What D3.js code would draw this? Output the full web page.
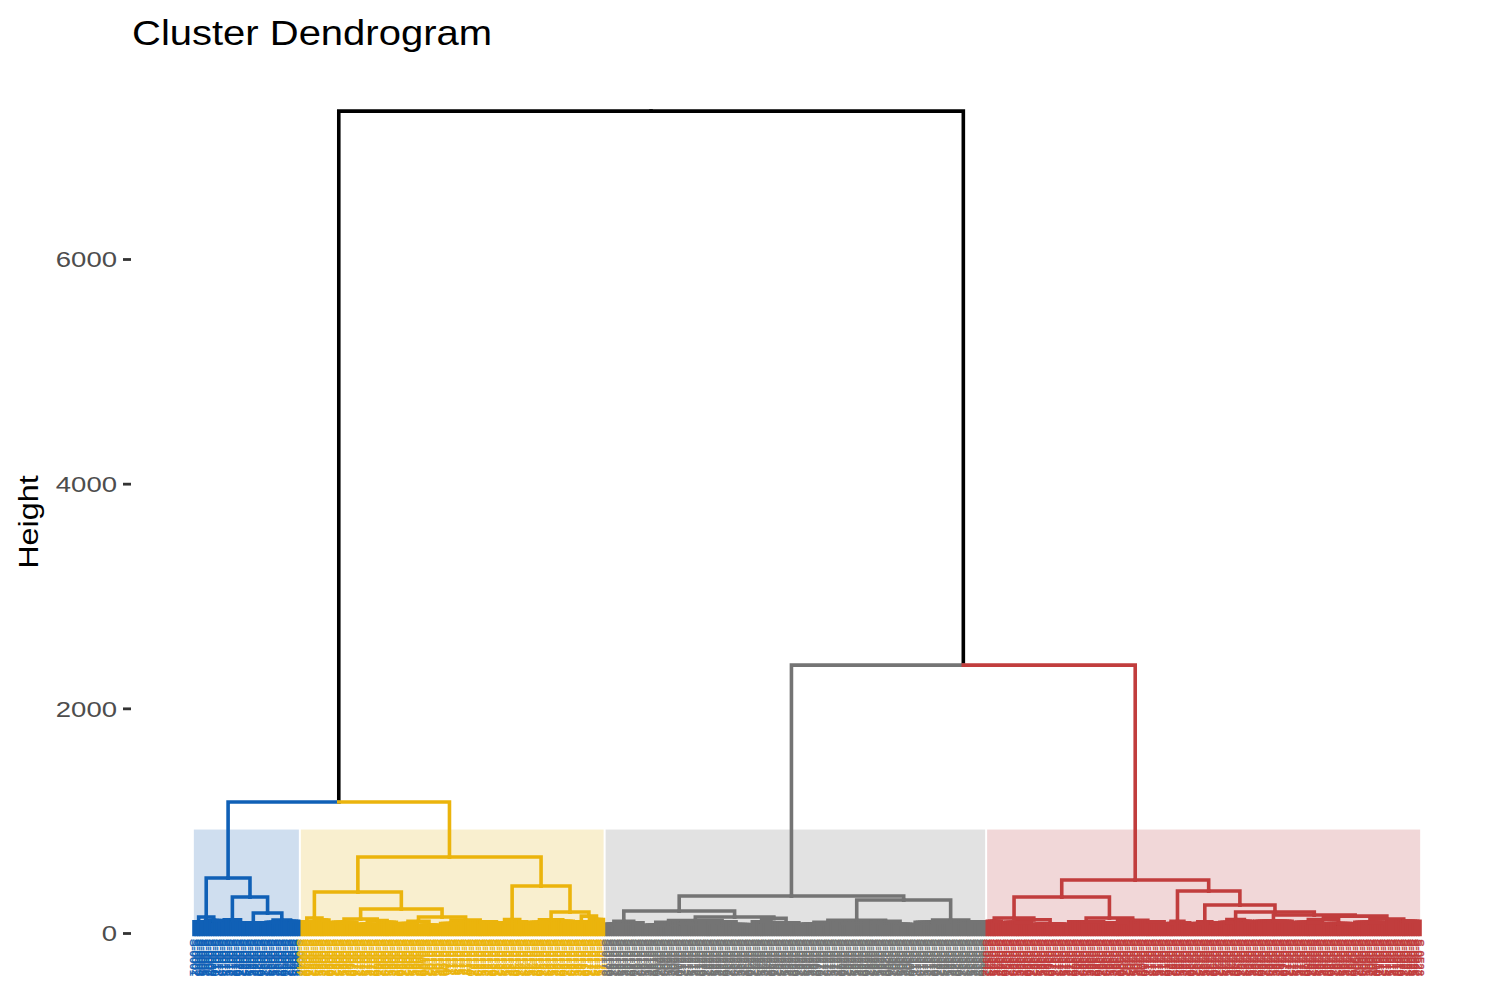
<!DOCTYPE html>
<html><head><meta charset="utf-8">
<script src="https://cdn.jsdelivr.net/npm/d3@7"></script>
<style>body{margin:0;background:#fff}</style>
</head><body>
<svg id="chart" width="1500" height="1000"></svg>
<script>
// ---- data: branches as [id, parent, merge height, leaves in a terminal bundle] ----
const topBranches = [
  ["root", null, 7316, 0],
  ["L", "root", 1166, 0],
  ["Rt", "root", 2385, 0],
  ["B", "L", 490, 0],
  ["Y", "L", 676, 0],
  ["G", "Rt", 329, 0],
  ["R", "Rt", 472, 0]
];
const blueBranches = [
  ["B1","B",142,0], ["B1a","B1",100,5], ["B1b","B1",110,8],
  ["B2","B",320,0], ["B2a","B2",118,8], ["B2b","B2",178,0],
  ["B2b1","B2b",90,10], ["B2b2","B2b",115,0], ["B2b2a","B2b2",95,7], ["B2b2b","B2b2",105,8]
];
const yellowBranches = [
  ["Y1","Y",365,0],
  ["Y1a","Y1",133,0], ["Y1a1","Y1a",100,6], ["Y1a2","Y1a",115,7],
  ["Y1b","Y1",214,0],
  ["Y1b1","Y1b",125,0], ["Y1b1a","Y1b1",95,12],
  ["Y1b1b","Y1b1",110,0], ["Y1b1b1","Y1b1b",80,8], ["Y1b1b2","Y1b1b",95,9],
  ["Y1b2","Y1b",142,0],
  ["Y1b2a","Y1b2",105,0], ["Y1b2a1","Y1b2a",85,9], ["Y1b2a2","Y1b2a",70,9],
  ["Y1b2b","Y1b2",115,0], ["Y1b2b1","Y1b2b",85,10], ["Y1b2b2","Y1b2b",100,15],
  ["Y2","Y",418,0],
  ["Y2a","Y2",120,0], ["Y2a1","Y2a",90,6], ["Y2a2","Y2a",100,7],
  ["Y2b","Y2",187,0],
  ["Y2b1","Y2b",118,0], ["Y2b1a","Y2b1",95,10], ["Y2b1b","Y2b1",105,10],
  ["Y2b2","Y2b",150,0], ["Y2b2a","Y2b2",100,6], ["Y2b2b","Y2b2",120,7]
];
const greyBranches = [
  ["G1","G",196,0],
  ["G1a","G1",105,0], ["G1a1","G1a",80,8], ["G1a2","G1a",90,9],
  ["G1b","G1",142,0],
  ["G1b1","G1b",110,0],
  ["G1b1a","G1b1",95,0], ["G1b1a1","G1b1a",70,10], ["G1b1a2","G1b1a",85,12],
  ["G1b1b","G1b1",100,0], ["G1b1b1","G1b1b",90,11], ["G1b1b2","G1b1b",75,13],
  ["G1b2","G1b",130,0], ["G1b2a","G1b2",100,9], ["G1b2b","G1b2",90,12],
  ["G2","G",294,0],
  ["G2a","G2",112,0],
  ["G2a1","G2a",95,0], ["G2a1a","G2a1",80,12], ["G2a1b","G2a1",88,12],
  ["G2a2","G2a",105,0], ["G2a2a","G2a2",95,13], ["G2a2b","G2a2",78,12],
  ["G2b","G2",116,0], ["G2b1","G2b",95,16], ["G2b2","G2b",100,15]
];
const redBranches = [
  ["R1","R",320,0],
  ["R1a","R1",134,0], ["R1a1","R1a",105,7],
  ["R1a2","R1a",118,0], ["R1a2a","R1a2",95,13], ["R1a2b","R1a2",80,15],
  ["R1b","R1",134,0], ["R1b1","R1b",100,16],
  ["R1b2","R1b",112,0], ["R1b2a","R1b2",90,11], ["R1b2b","R1b2",100,15],
  ["R2","R",374,0],
  ["R2a","R2",105,0], ["R2a1","R2a",85,5], ["R2a2","R2a",90,6],
  ["R2b","R2",249,0],
  ["R2b1","R2b",100,0], ["R2b1a","R2b1",85,6], ["R2b1b","R2b1",90,6],
  ["R2b2","R2b",187,0],
  ["R2b2a","R2b2",120,0], ["R2b2a1","R2b2a",95,7], ["R2b2a2","R2b2a",105,8],
  ["R2b2b","R2b2",160,0], ["R2b2b1","R2b2b",105,17],
  ["R2b2b2","R2b2b",150,0],
  ["R2b2b2a","R2b2b2",120,0], ["R2b2b2a1","R2b2b2a",95,13], ["R2b2b2a2","R2b2b2a",85,13],
  ["R2b2b2b","R2b2b2",125,0], ["R2b2b2b1","R2b2b2b",95,14], ["R2b2b2b2","R2b2b2b",105,15]
];
const clusterRoots = ["B","Y","G","R"];
const clusterColors = ["#1060B6","#EBB40C","#747474","#C13D3D"];
const clusterFills  = ["#CFDEEF","#F9EFCF","#E2E2E2","#F1D7D8"];
const yTicks = [0, 2000, 4000, 6000];
const titleText = "Cluster Dendrogram";
const yTitleText = "Height";
const kClusters = 4;

// ---- build hierarchy ----
const allBranches = [...topBranches, ...blueBranches, ...yellowBranches, ...greyBranches, ...redBranches];
const root = d3.stratify().id(d => d[0]).parentId(d => d[1])(allBranches);

const leafSlots = [];
root.eachBefore(nd => {
  if (!nd.children) {
    nd.first = leafSlots.length;
    for (let j = 0; j < nd.data[3]; j++) leafSlots.push(nd);
    nd.last = leafSlots.length - 1;
  }
});
const N = leafSlots.length;
const leafLabels = d3.range(N).map(i => "S-" + d3.format("04")(i + 1));

root.each(nd => {
  const a = nd.ancestors().find(a => clusterRoots.includes(a.id));
  nd.cluster = a ? clusterRoots.indexOf(a.id) : -1;
});
const colorOf = nd => nd.cluster < 0 ? "#000000" : clusterColors[nd.cluster];

// ---- scales ----
const x = d3.scalePoint().domain(d3.range(N)).range([194, 1420]);
const y = d3.scaleLinear().domain([0, 6000]).range([933, 259]);
const step = x.step();

root.eachAfter(nd => {
  if (nd.children) {
    nd.px = d3.mean(nd.children, c => c.px);
    nd.first = d3.min(nd.children, c => c.first);
    nd.last = d3.max(nd.children, c => c.last);
  } else {
    nd.px = (x(nd.first) + x(nd.last)) / 2;
  }
});

const svg = d3.select("#chart");
const FONT = "'Liberation Sans', Arial, Helvetica, sans-serif";

// ---- cluster rectangles ----
const internalHeights = root.descendants().filter(n => n.children).map(n => n.data[2]).sort((a,b) => b - a);
const rectTop = (internalHeights[kClusters - 2] + internalHeights[kClusters - 1]) / 2;
const clusterNodes = clusterRoots.map(id => root.find(n => n.id === id));
svg.append("g").selectAll("rect").data(clusterNodes).join("rect")
  .attr("x", d => x(d.first) - step / 2 + 1)
  .attr("width", d => x(d.last) - x(d.first) + step - 2)
  .attr("y", y(rectTop))
  .attr("height", y(0) + 3 - y(rectTop))
  .attr("fill", (d, i) => clusterFills[i]);

// ---- branches ----
const edges = [];
root.descendants().forEach(nd => {
  if (nd.parent) edges.push({ d: `M${nd.parent.px},${y(nd.parent.data[2])}H${nd.px}V${y(nd.data[2])}`, c: colorOf(nd) });
  if (!nd.children) {
    for (let i = nd.first; i <= nd.last; i++)
      edges.push({ d: `M${nd.px},${y(nd.data[2])}H${x(i)}V${y(0) + 1.5}`, c: colorOf(nd) });
  }
});
svg.append("g").attr("fill", "none").attr("stroke-width", 3.6).attr("stroke-linecap", "square")
  .selectAll("path").data(edges).join("path")
  .attr("d", d => d.d).attr("stroke", d => d.c);

// ---- leaf labels ----
svg.append("g").attr("font-family", FONT).attr("font-size", 11.5)
  .selectAll("text").data(leafSlots).join("text")
  .attr("transform", (d, i) => `translate(${x(i)},939) rotate(90)`)
  .attr("dy", "0.36em")
  .attr("fill", d => clusterColors[d.cluster])
  .attr("stroke", d => clusterColors[d.cluster]).attr("stroke-width", 0.35)
  .text((d, i) => leafLabels[i]);

// ---- y axis ----
const ax = svg.append("g").attr("transform", "translate(131,0)")
  .call(d3.axisLeft(y).tickValues(yTicks).tickSize(8).tickPadding(6).tickFormat(d3.format("d")));
ax.select(".domain").remove();
ax.selectAll(".tick line").attr("stroke", "#333333").attr("stroke-width", 2.8);
ax.selectAll(".tick text").attr("font-family", FONT).attr("font-size", 22).attr("fill", "#4D4D4D")
  .attr("dy", "0.36em")
  .each(function() { const L = this.getComputedTextLength(); this.setAttribute("textLength", L * 1.25); this.setAttribute("lengthAdjust", "spacingAndGlyphs"); });

// ---- titles ----
svg.append("text").attr("x", 132).attr("y", 45).attr("font-family", FONT).attr("font-size", 35)
  .attr("fill", "#000").text(titleText)
  .each(function() { this.setAttribute("textLength", 360); this.setAttribute("lengthAdjust", "spacingAndGlyphs"); });

svg.append("text").attr("transform", "translate(38,522) rotate(-90)").attr("text-anchor", "middle")
  .attr("font-family", FONT).attr("font-size", 27).attr("fill", "#000").text(yTitleText)
  .each(function() { const L = this.getComputedTextLength(); this.setAttribute("textLength", L * 1.2); this.setAttribute("lengthAdjust", "spacingAndGlyphs"); });
</script>
</body></html>
